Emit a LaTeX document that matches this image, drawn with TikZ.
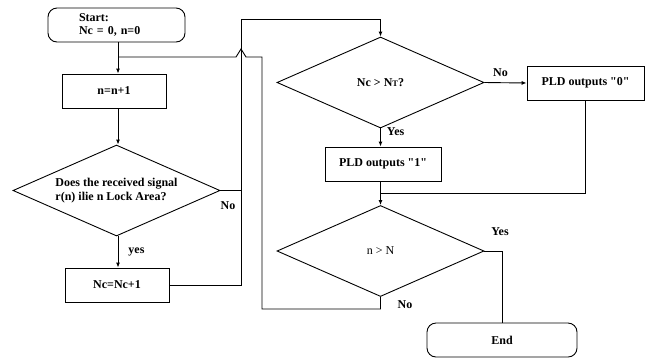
\documentclass[tikz,border=0pt]{standalone}
\usepackage{fontspec}
\setmainfont{Liberation Serif}[Ligatures=TeXOff]
\usetikzlibrary{shapes.geometric,arrows.meta}
\begin{document}
\begin{tikzpicture}[x=1pt,y=-1pt,
  every node/.style={font=\fontsize{12}{13.5}\selectfont\bfseries},
  line/.style={line width=0.9pt},
  flow/.style={line, -{Latex[length=5pt,width=4pt]}},
  proc/.style={draw, line width=0.9pt, minimum width=104pt, minimum height=34pt, inner sep=0pt},
  term/.style={draw, line width=0.9pt, rounded corners=9pt, minimum height=34pt, inner sep=0pt},
  decide/.style={draw, line width=0.9pt, diamond, minimum width=207pt, minimum height=91pt, inner sep=0pt},
  lab/.style={font=\fontsize{12}{13.5}\selectfont\bfseries, inner sep=0pt}]
\useasboundingbox (0,0) rectangle (660,360);

% blocks
\node[term, minimum width=137pt, text width=75pt, inner xsep=31pt, align=left] (start) at (116.5,25) {Start:\\Nc = 0, n=0};
\node[proc] (inc) at (114,91) {n=n+1};
\node[decide, label={[align=left, lab]center:Does the received signal\\r(n) ilie n Lock Area?}] (lock) at (116.5,190.5) {};
\node[proc] (cnt) at (117,285) {Nc=Nc+1};
\node[decide, label={[lab]center:Nc > N{\fontsize{8.5}{9}\selectfont T}?}] (thr) at (380.5,82.5) {};
\node[proc, minimum width=117pt] (zero) at (585.5,83) {PLD outputs "0"};
\node[proc, minimum width=116pt] (one) at (383,164) {PLD outputs "1"};
\node[decide, label={[lab, font=\fontsize{12}{13.5}\selectfont]center:n > N}] (last) at (380.5,251) {};
\node[term, minimum width=150pt] (end) at (502,340) {End};

% routing points
\coordinate (up) at (241,19);
\coordinate (merge) at (118,57);
\coordinate (hopL) at (236,57);
\coordinate (hopT) at (241,49);
\coordinate (hopR) at (246,57);
\coordinate (back) at (262,57);
\coordinate (low) at (262,309);
\coordinate (join) at (380.5,193);

% left column
\draw[flow] (start.south -| merge) -- (inc.north -| merge);
\draw[flow] (inc.south -| merge) -- (lock.north -| merge);
\draw[flow] (lock.south -| merge) -- node[lab, right=10pt] {yes} (cnt.north -| merge);
\draw[line] (lock.east) -- (lock.east -| up);
\draw[line] (cnt.east) -| (up);
\draw[flow] (up) -| (thr.north);
\node[lab] at (228,206) {No};

% threshold test
\draw[flow] (thr.east) -- node[lab, above=6pt, pos=0.38] {No} (zero.west);
\draw[flow] (thr.south) -- node[lab, right=6pt, pos=0.2] {Yes} (one.north -| thr.south);
\draw[line] (zero.south) |- (join);
\draw[flow] (one.south -| join) -- (last.north);

% loop end test
\draw[line] (last.east) -| (end.north);
\node[lab] at (500,232) {Yes};
\node[lab] at (405,305) {No};
\draw[line] (last.south) |- (low) -- (back) -- (hopR) -- (hopT) -- (hopL) -- (merge);
\end{tikzpicture}
\end{document}
